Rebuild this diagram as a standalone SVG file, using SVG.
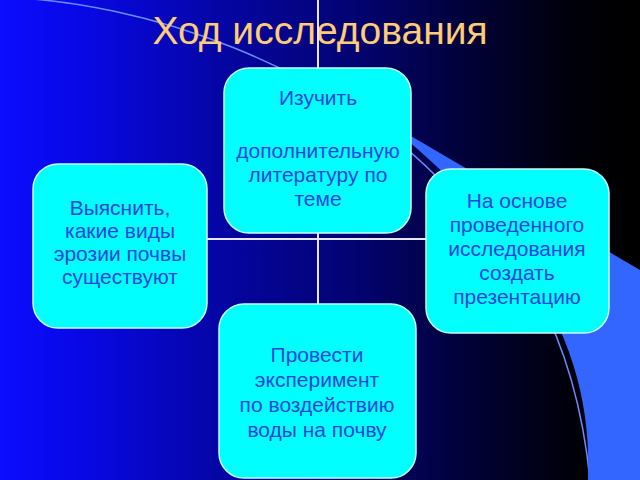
<svg xmlns="http://www.w3.org/2000/svg" width="640" height="480" viewBox="0 0 640 480">
<defs>
<linearGradient id="bg" x1="0" y1="0" x2="1" y2="0">
<stop offset="0" stop-color="#0c0cff"/>
<stop offset="0.12" stop-color="#0808e8"/>
<stop offset="0.35" stop-color="#0505a2"/>
<stop offset="0.55" stop-color="#030372"/>
<stop offset="0.75" stop-color="#010132"/>
<stop offset="0.9" stop-color="#000008"/>
<stop offset="1" stop-color="#000000"/>
</linearGradient>
<style>
.node rect{fill:#00ffff;stroke:#c8ffff;stroke-width:1.5}
.node text{font-family:"Liberation Sans",Arial,sans-serif;font-size:21px;fill:#1f45dd;text-anchor:middle}
.conn{stroke:#e6e6ff;stroke-width:2;fill:none}
</style>
</defs>
<rect width="640" height="480" fill="url(#bg)"/>
<path d="M-5,-3 C150,0 330,70 435,175 C515,238 575,330 590,480" fill="none" stroke="#6a8cff" stroke-width="1.5"/>
<path d="M380,118 L640,270 L640,480 L588,480 C592,380 560,260 380,118 Z" fill="#3366ff"/>
<text x="320" y="44" font-family="'Liberation Sans',Arial,sans-serif" font-size="39" fill="#ffcc77" text-anchor="middle">Ход исследования</text>
<g id="connectors">
<line class="conn" x1="318" y1="0" x2="318" y2="305"/>
<line class="conn" x1="206" y1="239" x2="427" y2="239"/>
</g>
<g id="n-study" class="node">
<rect x="224" y="68" width="187" height="165" rx="25"/>
<text x="318" y="105">Изучить</text>
<text x="318" y="158">дополнительную</text>
<text x="318" y="182">литературу по</text>
<text x="318" y="206">теме</text>
</g>
<g id="n-find" class="node">
<rect x="33" y="164" width="174" height="164" rx="25"/>
<text x="120" y="215">Выяснить,</text>
<text x="120" y="238">какие виды</text>
<text x="120" y="261">эрозии почвы</text>
<text x="120" y="284">существуют</text>
</g>
<g id="n-present" class="node">
<rect x="426" y="169" width="183" height="164" rx="25"/>
<text x="517" y="208">На основе</text>
<text x="517" y="232">проведенного</text>
<text x="517" y="256">исследования</text>
<text x="517" y="280">создать</text>
<text x="517" y="304">презентацию</text>
</g>
<g id="n-experiment" class="node">
<rect x="219" y="304" width="197" height="174" rx="25"/>
<text x="317" y="362">Провести</text>
<text x="317" y="387">эксперимент</text>
<text x="317" y="412">по воздействию</text>
<text x="317" y="437">воды на почву</text>
</g>
</svg>
